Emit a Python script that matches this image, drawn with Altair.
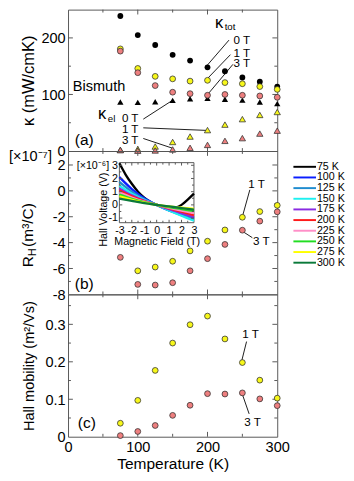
import altair as alt
import pandas as pd

# ---------------- data ----------------
T = [75, 100, 125, 150, 175, 200, 225, 250, 275, 300]
kappa_tot_0T = [238.7, 205.0, 187.5, 170.0, 160.0, 148.0, 141.0, 130.0, 122.5, 114.0]
kappa_tot_1T = [180.6, 146.0, 132.0, 127.6, 123.6, 125.0, 121.0, 119.0, 114.0, 109.0]
kappa_tot_3T = [176.6, 138.5, 115.7, 104.0, 101.4, 98.6, 100.0, 98.6, 97.4, 95.0]
kappa_el_0T = [86.6, 86.0, 87.0, 89.5, 92.3, 93.4, 91.7, 90.0, 86.6, 83.8]
kappa_el_1T = [2.0, 3.4, 8.0, 16.0, 25.6, 37.0, 46.7, 56.4, 63.8, 69.0]
kappa_el_3T = [1.7, 0.6, 1.0, 2.8, 5.7, 10.8, 18.0, 22.8, 30.8, 36.0]
RH_1T = [None, -6.18, -5.89, -5.44, -4.64, -3.89, -3.02, -2.04, -1.60, -1.12]
RH_3T = [-5.14, -7.23, -7.28, -7.10, -6.18, -5.24, -4.14, -3.04, -2.34, -1.62]
mu_1T = [0.036, 0.097, 0.177, 0.250, 0.299, 0.322, 0.261, 0.198, 0.151, 0.103]
mu_3T = [0.003, 0.014, 0.030, 0.057, 0.084, 0.115, 0.114, 0.117, 0.101, 0.083]

# inset: Hall voltage (x1e-6 V) vs magnetic field (T)
B_fine = [-3, -2.5, -2, -1.5, -1, -0.5, 0, 0.5, 1, 1.5, 2, 2.5, 3]
B_coarse = [-3, -2, -1, 0, 1, 2, 3]
V_75K = [3.15, 2.3, 1.6, 1.0, 0.55, 0.22, 0.0, -0.15, -0.24, -0.2, 0.0, 0.4, 0.85]
V_100K = [2.1, 1.2, 0.5, 0.0, -0.42, -0.72, -1.0]
V_125K = [1.75, 1.0, 0.42, 0.0, -0.42, -0.78, -1.1]
V_150K = [1.45, 0.85, 0.38, 0.0, -0.42, -0.82, -1.2]
V_175K = [1.25, 0.72, 0.32, 0.0, -0.33, -0.63, -0.92]
V_200K = [1.1, 0.64, 0.28, 0.0, -0.27, -0.52, -0.78]
V_225K = [0.95, 0.56, 0.24, 0.0, -0.22, -0.43, -0.63]
V_250K = [0.78, 0.46, 0.2, 0.0, -0.17, -0.32, -0.47]
V_275K = [0.64, 0.38, 0.17, 0.0, -0.12, -0.22, -0.3]
V_300K = [0.48, 0.3, 0.13, 0.0, -0.12, -0.24, -0.36]
temp_names = ["75 K", "100 K", "125 K", "150 K", "175 K", "200 K", "225 K", "250 K", "275 K", "300 K"]
temp_colors = ["#000000", "#0a1eff", "#1f8ccf", "#1ef0f0", "#8a2be2", "#ff1a1a",
               "#ff8fc8", "#22dd22", "#ffff00", "#0b7a3a"]

# axis labels and tick marks
T_labels = [0, 100, 200, 300]
T_major = [100, 200]
T_minor = [50, 150, 250]
kappa_labels = [0, 100, 200]
kappa_major = [100, 200]
kappa_minor = [50, 150]
RH_labels = [-8, -6, -4, -2, 0, 2]
RH_major = [-6, -4, -2, 0, 2]
RH_minor = [-7, -5, -3, -1, 1]
mu_labels = [0, 0.1, 0.2, 0.3]
mu_major = [0.1, 0.2, 0.3]
mu_minor = [0.05, 0.15, 0.25, 0.35]
B_labels = [-3, -2, -1, 0, 1, 2, 3]
B_major = [-2, -1, 0, 1, 2]
B_minor = [-2.5, -1.5, -0.5, 0.5, 1.5, 2.5]
V_labels = [-1, 0, 1, 2, 3]
V_major = [-1, 0, 1, 2, 3]
V_minor = [-0.5, 0.5, 1.5, 2.5]

# ---------------- style ----------------
FONT = "Liberation Sans"
FRAME = "#555555"
EDGE = "#333333"
YELLOW = "#f7f71a"
PINK = "#ee7f7f"
W = 216
HA, HB, HC = 146, 148, 147
LBL = "'' + datum.value"


def make_xy(xscale, yscale, xaxis, yaxis):
    def X(f):
        return alt.X(f, type="quantitative", scale=xscale, axis=xaxis)

    def Y(f):
        return alt.Y(f, type="quantitative", scale=yscale, axis=yaxis)
    return X, Y


def tick_rules(X, Y, left, right, top, bottom, xmaj, xmin, ymaj, ymin, lmaj, lmin):
    out = []
    for vals, L in ((xmaj, lmaj), (xmin, lmin)):
        base = alt.Chart(pd.DataFrame({"v": vals})).mark_rule(color=FRAME, strokeWidth=1)
        out.append(base.encode(x=X("v"), y=alt.value(bottom), y2=alt.value(bottom - L)))
        out.append(base.encode(x=X("v"), y=alt.value(top), y2=alt.value(top + L)))
    for vals, L in ((ymaj, lmaj), (ymin, lmin)):
        base = alt.Chart(pd.DataFrame({"v": vals})).mark_rule(color=FRAME, strokeWidth=1)
        out.append(base.encode(y=Y("v"), x=alt.value(left), x2=alt.value(left + L)))
        out.append(base.encode(y=Y("v"), x=alt.value(right), x2=alt.value(right - L)))
    return out


def points(X, Y, yvals, shape, fill, size, edge):
    df = pd.DataFrame({"T": T, "v": yvals})
    kw = dict(shape=shape, filled=True, fill=fill, size=size, opacity=1)
    if edge:
        kw.update(stroke=edge, strokeWidth=0.8)
    else:
        kw.update(strokeWidth=0)
    return alt.Chart(df).mark_point(**kw).encode(x=X("T"), y=Y("v"))


def texts(X, Y, rows, size, align="left", baseline="middle", dx=0, dy=0):
    df = pd.DataFrame(rows, columns=["x", "y", "t"])
    return alt.Chart(df).mark_text(align=align, baseline=baseline, fontSize=size, font=FONT,
                                   dx=dx, dy=dy, color="black").encode(
        x=X("x"), y=Y("y"), text="t:N")


def leaders(X, Y, segs):
    df = pd.DataFrame(segs, columns=["x1", "y1", "x2", "y2"])
    return alt.Chart(df).mark_rule(color="black", strokeWidth=0.9).encode(
        x=X("x1"), x2="x2", y=Y("y1"), y2="y2")


def pixel_text(txt, x, y, size, angle=0, align="left", baseline="middle"):
    kw = dict(align=align, baseline=baseline, fontSize=size, font=FONT, color="black")
    if angle:
        kw["angle"] = angle
    return alt.Chart(pd.DataFrame({"t": [txt]})).mark_text(**kw).encode(
        x=alt.value(x), y=alt.value(y), text="t:N")


xs = alt.Scale(domain=[0, 300], nice=False, zero=False)

# ---------------- panel (a) ----------------
ya = alt.Scale(domain=[0, 250], nice=False, zero=False)
ax_ya = alt.Axis(values=kappa_labels, labelExpr=LBL, labelFontSize=15, labelPadding=3,
                 title="κ (mW/cmK)", titleFontSize=17, titleX=-36, titleY=HA / 2,
                 titleAngle=270, titleAlign="center", titleBaseline="alphabetic")
Xa, Ya = make_xy(xs, ya, None, ax_ya)
layers_a = tick_rules(Xa, Ya, 0, W, 0, HA, T_major, T_minor, kappa_major, kappa_minor, 5, 3)
layers_a.append(leaders(Xa, Ya, [
    (230.8, 196.1, 199.6, 151.6), (232.9, 170.4, 200.4, 128.7), (236.5, 153.3, 200.4, 100.3),
    (107.9, 56.4, 149.5, 89.4), (107.9, 41.0, 200.4, 36.4), (107.9, 22.2, 149.5, 5.1)]))
layers_a += [
    points(Xa, Ya, kappa_el_0T, "triangle-up", "black", 42, None),
    points(Xa, Ya, kappa_el_1T, "triangle-up", YELLOW, 42, EDGE),
    points(Xa, Ya, kappa_el_3T, "triangle-up", PINK, 42, EDGE),
    points(Xa, Ya, kappa_tot_0T, "circle", "black", 36, None),
    points(Xa, Ya, kappa_tot_1T, "circle", YELLOW, 36, EDGE),
    points(Xa, Ya, kappa_tot_3T, "circle", PINK, 36, EDGE),
    texts(Xa, Ya, [(261, 196.6, "0 T"), (261, 173.2, "1 T"), (261, 155.0, "3 T"),
                   (101, 58.1, "0 T"), (101, 38.1, "1 T"), (101, 19.3, "3 T")], 12, align="right"),
    texts(Xa, Ya, [(6.9, 115.4, "Bismuth")], 15),
    texts(Xa, Ya, [(9.7, 19.7, "(a)")], 16),
    texts(Xa, Ya, [(210.7, 217.6, "κ"), (43.1, 56.4, "κ")], 17, baseline="alphabetic"),
    texts(Xa, Ya, [(210.7, 217.6, "tot")], 10, baseline="alphabetic", dx=10, dy=2),
    texts(Xa, Ya, [(43.1, 56.4, "el")], 10, baseline="alphabetic", dx=10, dy=3),
]
panel_a = alt.layer(*layers_a).properties(width=W, height=HA)

# ---------------- panel (b) ----------------
yb = alt.Scale(domain=[-8, 3.08], nice=False, zero=False)
ax_yb = alt.Axis(values=RH_labels, labelExpr=LBL, labelFontSize=15, labelPadding=3, title=None)
Xb, Yb = make_xy(xs, yb, None, ax_yb)
layers_b = tick_rules(Xb, Yb, 0, W, 0, HB, T_major, T_minor, RH_major, RH_minor, 5, 3)
layers_b.append(leaders(Xb, Yb, [(260.7, 0.08, 250.4, -1.92), (251.4, -3.17, 264.3, -3.62)]))
layers_b += [
    points(Xb, Yb, RH_1T, "circle", YELLOW, 36, EDGE),
    points(Xb, Yb, RH_3T, "circle", PINK, 36, EDGE),
    texts(Xb, Yb, [(258.3, 0.55, "1 T"), (265.3, -3.92, "3 T")], 12),
    texts(Xb, Yb, [(9.7, -7.2, "(b)")], 16),
    pixel_text("[×10⁻⁷]", -61, 5, 15),
    pixel_text("R", -36, 120, 16, angle=270, baseline="alphabetic"),
    pixel_text("H", -33, 108.5, 11, angle=270, baseline="alphabetic"),
    pixel_text(" (m³/C)", -36, 99, 16, angle=270, baseline="alphabetic"),
]
main_b = alt.layer(*layers_b)

# inset
xi = alt.Scale(domain=[-3, 3], range=[53, 130], nice=False, zero=False)
yi = alt.Scale(domain=[-1.35, 3.2], range=[74, 12], nice=False, zero=False)
ax_xi = alt.Axis(orient="bottom", offset=-74, values=B_labels, labelExpr=LBL, labelFontSize=11,
                 labelPadding=2, title="Magnetic Field (T)", titleFontSize=11, titlePadding=1)
ax_yi = alt.Axis(orient="left", offset=-53, values=V_labels, labelExpr=LBL, labelFontSize=11,
                 labelPadding=2, title="Hall Voltage (V)", titleFontSize=11, titleX=-13, titleY=60,
                 titleAngle=270, titleAlign="center", titleBaseline="alphabetic")
Xi, Yi = make_xy(xi, yi, ax_xi, ax_yi)

hall_rows = []
for name, Bs, Vs in zip(temp_names, [B_fine] + [B_coarse] * 9,
                        [V_75K, V_100K, V_125K, V_150K, V_175K, V_200K, V_225K, V_250K, V_275K, V_300K]):
    for b, v in zip(Bs, Vs):
        hall_rows.append({"temp": name, "B": b, "V": v})
hall_df = pd.DataFrame(hall_rows)
color_scale = alt.Scale(domain=temp_names, range=temp_colors)

frame_df = pd.DataFrame({"x1": [-3], "x2": [3], "y1": [-1.35], "y2": [3.2]})
inset_layers = [
    alt.Chart(frame_df).mark_rect(fill="white", stroke=FRAME, strokeWidth=1).encode(
        x=Xi("x1"), x2="x2", y=Yi("y1"), y2="y2"),
    alt.Chart(hall_df).mark_line(strokeWidth=2.4, interpolate="monotone").encode(
        x=Xi("B"), y=Yi("V"), color=alt.Color("temp:N", scale=color_scale, legend=None)),
]
inset_layers += tick_rules(Xi, Yi, 53, 130, 12, 74, B_major, B_minor, V_major, V_minor, 3, 2)
inset = alt.layer(*inset_layers)

# manual legend
leg_df = pd.DataFrame({"temp": temp_names})
leg_y = alt.Y("temp:N", scale=alt.Scale(type="point", domain=temp_names, range=[16.3, 115.3], padding=0),
              axis=None)
legend = alt.layer(
    alt.Chart(leg_df).mark_rule(strokeWidth=2).encode(
        x=alt.value(232.7), x2=alt.value(256), y=leg_y,
        color=alt.Color("temp:N", scale=color_scale, legend=None)),
    alt.Chart(leg_df).mark_text(align="left", baseline="middle", fontSize=11, font=FONT,
                                color="black").encode(
        x=alt.value(257), y=leg_y, text="temp:N"),
    pixel_text("[×10⁻⁶]", 9, 16, 11),
)

panel_b = alt.layer(main_b, inset, legend).resolve_scale(
    x="independent", y="independent").properties(width=W, height=HB)

# ---------------- panel (c) ----------------
yc = alt.Scale(domain=[0, 0.38], nice=False, zero=False)
ax_yc = alt.Axis(values=mu_labels, labelExpr=LBL, labelFontSize=15, labelPadding=3,
                 title="Hall mobility (m²/Vs)", titleFontSize=15, titleX=-36, titleY=HC / 2,
                 titleAngle=270, titleAlign="center", titleBaseline="alphabetic")
ax_xc = alt.Axis(values=T_labels, labelExpr=LBL, labelFontSize=15, labelPadding=3,
                 title="Temperature (K)", titleFontSize=16, titlePadding=2)
Xc, Yc = make_xy(xs, yc, ax_xc, ax_yc)
layers_c = tick_rules(Xc, Yc, 0, W, 0, HC, T_major, T_minor, mu_major, mu_minor, 5, 3)
layers_c.append(leaders(Xc, Yc, [(256.0, 0.254, 249.0, 0.202), (250.4, 0.111, 259.7, 0.061)]))
layers_c += [
    points(Xc, Yc, mu_1T, "circle", YELLOW, 36, EDGE),
    points(Xc, Yc, mu_3T, "circle", PINK, 36, EDGE),
    texts(Xc, Yc, [(250.0, 0.275, "1 T"), (252.8, 0.038, "3 T")], 12),
    texts(Xc, Yc, [(13.9, 0.036, "(c)")], 16),
]
panel_c = alt.layer(*layers_c).properties(width=W, height=HC)

chart = alt.vconcat(panel_a, panel_b, panel_c, spacing=0, bounds="flush").configure_view(
    stroke=FRAME, strokeWidth=1
).configure_axis(
    ticks=False, domain=False, grid=False, labelFlush=False, labelOverlap=False,
    labelFont=FONT, titleFont=FONT, labelColor="black", titleColor="black",
    titleFontWeight="normal"
).properties(padding={"left": 0, "top": -7, "right": 0, "bottom": 0})

chart.save("out.html", embed_options={"renderer": "svg", "actions": False})
